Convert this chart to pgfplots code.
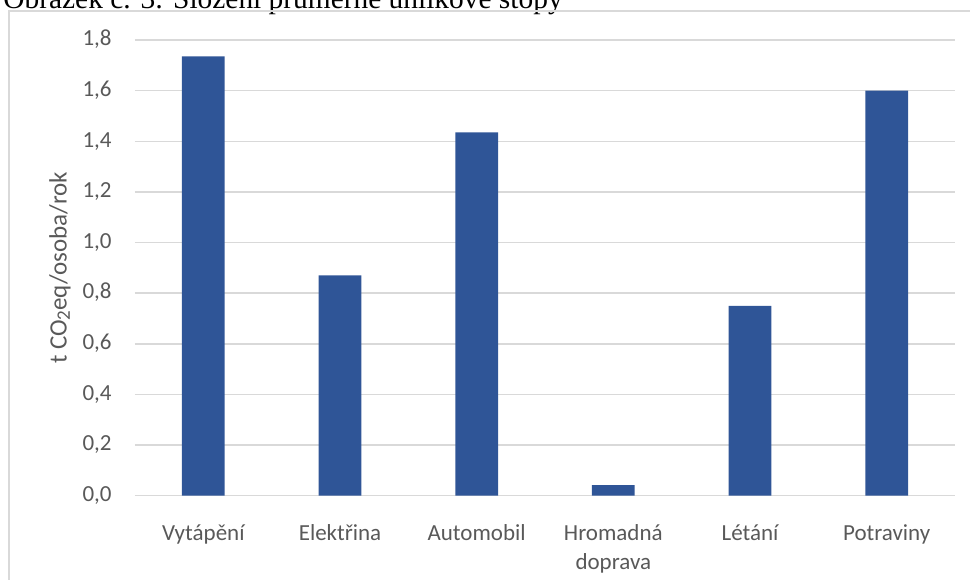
\documentclass[border=0pt]{standalone}
\usepackage{pgfplots}
\pgfplotsset{compat=1.18}
\usepackage{fontspec}
\setmainfont{Carlito}
\newfontfamily\captionfont{Liberation Serif}
\definecolor{barblue}{HTML}{2F5597}
\definecolor{txtgray}{HTML}{595959}
\definecolor{gridgray}{HTML}{D9D9D9}

\begin{document}
\begin{tikzpicture}
\useasboundingbox (0,0) rectangle (485pt,289.5pt);
\clip (0,0) rectangle (485pt,289.5pt);
% figure caption above the chart frame
\node[anchor=base west, inner sep=0pt, font=\captionfont\fontsize{14.7}{17}\selectfont]
  at (1.5pt,285pt) {Obrázek č. 3: Složení průměrné uhlíkové stopy};
% chart frame
\draw[gridgray, line width=0.6pt] (4.5pt,-10pt) |- (500pt,284pt);
\begin{axis}[
  at={(67.5pt,41.65pt)}, anchor=south west,
  scale only axis, width=410pt, height=227.85pt,
  xmin=-0.5, xmax=5.5, ymin=0, ymax=1.8,
  ytick={0,0.2,0.4,0.6,0.8,1.0,1.2,1.4,1.6,1.8},
  xtick={0,1,2,3,4,5},
  xticklabels={Vytápění,Elektřina,Automobil,Hromadná\\doprava,Létání,Potraviny},
  axis line style={draw=none},
  tick style={draw=none},
  ymajorgrids,
  grid style={gridgray, line width=0.75pt},
  ticklabel style={font=\fontsize{11.5}{14.5}\selectfont, text=txtgray},
  typeset ticklabels with strut,
  xticklabel style={align=center, anchor=north, inner sep=0pt, yshift=-8pt},
  yticklabel style={anchor=east, inner sep=0pt, xshift=-11.5pt},
  /pgf/number format/.cd, use comma, fixed, fixed zerofill, precision=1, assume math mode=true,
  /pgfplots/.cd,
  ylabel={t CO{\fontsize{9.5}{10}\selectfont\raisebox{-0.35ex}{2}}eq/osoba/rok},
  ylabel style={at={(axis description cs:-0.0915,0.5)}, anchor=center,
    font=\fontsize{12.5}{15}\selectfont, text=txtgray},
  ybar, bar width=21.35pt,
]
\addplot[fill=barblue, draw=none] coordinates {
  (0,1.735) (1,0.87) (2,1.435) (3,0.042) (4,0.75) (5,1.6)
};
\end{axis}
\end{tikzpicture}
\end{document}
